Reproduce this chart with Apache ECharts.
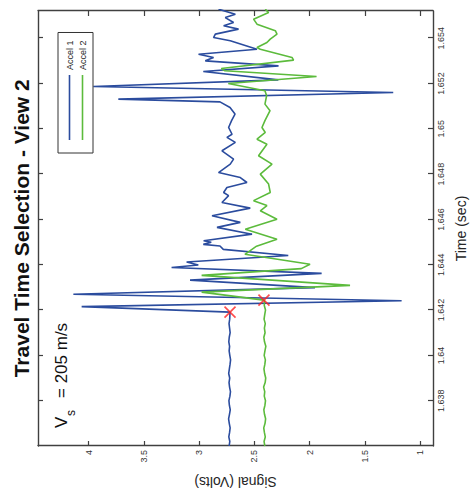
<!DOCTYPE html>
<html><head><meta charset="utf-8">
<script src="https://cdn.jsdelivr.net/npm/echarts@6/dist/echarts.min.js"></script>
<style>
html,body{margin:0;padding:0;width:474px;height:497px;overflow:hidden;background:#fff;}
#chart{position:absolute;left:0;top:0;width:497px;height:474px;transform-origin:0 0;transform:translate(0px,497px) rotate(-90deg);}
</style></head><body><div id="chart"></div>
<script>
// ---- data (time in s, signal in V) ----
const timeTicks = [1.638, 1.640, 1.642, 1.644, 1.646, 1.648, 1.650, 1.652, 1.654];
const signalTicks = [1, 1.5, 2, 2.5, 3, 3.5, 4];
const timeRange = [1.636, 1.6552];
const signalRange = [0.883, 4.458];
const seriesNames = ['Accel 1', 'Accel 2'];

const accel1Data = [
  [1.6360,2.728],[1.6362,2.722],[1.6364,2.731],[1.6366,2.724],[1.6368,2.719],[1.6370,2.727],
  [1.6372,2.733],[1.6374,2.725],[1.6376,2.718],[1.6378,2.726],[1.6380,2.730],[1.6382,2.721],
  [1.6384,2.716],[1.6386,2.724],[1.6388,2.729],[1.6390,2.723],[1.6392,2.732],[1.6394,2.726],
  [1.6396,2.720],[1.6398,2.715],[1.6400,2.722],[1.6402,2.728],[1.6404,2.724],[1.6406,2.731],
  [1.6408,2.727],[1.6410,2.719],[1.6412,2.724],[1.6414,2.729],[1.6416,2.723],[1.6418,2.721],
  [1.64191,2.720],[1.64215,4.063],[1.64241,1.167],[1.64270,4.138],[1.64299,1.951],[1.64332,3.082],
  [1.64362,1.891],[1.64388,3.249],[1.64399,3.007],[1.64412,3.113],[1.64441,2.193],[1.64468,2.781],
  [1.64483,2.811],[1.64490,2.962],[1.64499,2.890],[1.64506,2.959],[1.64535,2.521],[1.64565,2.838],
  [1.64587,2.627],[1.64616,2.883],[1.64650,2.537],[1.64675,2.793],[1.64705,2.733],[1.64719,2.778],
  [1.64741,2.748],[1.64763,2.567],[1.64785,2.627],[1.64807,2.824],[1.64844,2.718],[1.64866,2.688],
  [1.64903,2.793],[1.64940,2.672],[1.64962,2.748],[1.64976,2.702],[1.65006,2.733],[1.65036,2.706],
  [1.65065,2.675],[1.65094,2.720],[1.65119,2.811],[1.65131,3.731],[1.65160,1.243],[1.65187,3.957],
  [1.65216,2.283],[1.65253,2.962],[1.65278,2.281],[1.65300,2.944],[1.65315,2.869],[1.65329,3.005],
  [1.65351,2.476],[1.65389,2.718],[1.65403,2.869],[1.65418,2.853],[1.65440,2.643],[1.65455,2.778],
  [1.65469,2.688],[1.65491,2.763],[1.65506,2.672],[1.65528,2.824]
];

const accel2Data = [
  [1.6360,2.405],[1.6362,2.412],[1.6364,2.401],[1.6366,2.409],[1.6368,2.415],[1.6370,2.403],
  [1.6372,2.398],[1.6374,2.408],[1.6376,2.414],[1.6378,2.404],[1.6380,2.399],[1.6382,2.410],
  [1.6384,2.406],[1.6386,2.416],[1.6388,2.402],[1.6390,2.397],[1.6392,2.407],[1.6394,2.413],
  [1.6396,2.405],[1.6398,2.400],[1.6400,2.411],[1.6402,2.404],[1.6404,2.396],[1.6406,2.408],
  [1.6408,2.414],[1.6410,2.403],[1.6412,2.409],[1.6414,2.401],[1.6416,2.412],[1.6418,2.406],
  [1.6420,2.399],[1.6422,2.410],[1.6424,2.408],
  [1.64244,2.413],[1.64279,2.977],[1.64309,1.634],[1.64353,2.977],[1.64383,2.075],[1.64402,1.996],
  [1.64446,2.585],[1.64482,2.480],[1.64513,2.295],[1.64557,2.582],[1.64601,2.295],[1.64638,2.446],
  [1.64661,2.386],[1.64683,2.507],[1.64719,2.356],[1.64756,2.371],[1.64800,2.446],[1.64844,2.340],
  [1.64881,2.462],[1.64932,2.386],[1.64954,2.476],[1.64984,2.401],[1.65006,2.431],[1.65036,2.404],
  [1.65080,2.358],[1.65109,2.404],[1.65146,2.389],[1.65168,2.404],[1.65200,2.736],[1.65231,1.937],
  [1.65256,2.766],[1.65266,2.799],[1.65303,2.145],[1.65315,2.159],[1.65351,2.446],[1.65359,2.476],
  [1.65381,2.386],[1.65396,2.356],[1.65418,2.295],[1.65433,2.310],[1.65462,2.476],[1.65484,2.507],
  [1.65513,2.371],[1.65528,2.401]
];

const pickData = [[1.64191, 2.720], [1.64244, 2.413]];

// ---- styling ----
const FONT = '"Liberation Sans", Arial, Helvetica, sans-serif';
const AX = '#404040';
const BLUE = '#2b4c9e';
const GREEN = '#5cbb3c';

function fmtNum(v) { return String(+(+v).toFixed(3)); }

function axisCommon(showLabel) {
  return {
    axisLine: { show: true, onZero: false, lineStyle: { color: AX, width: 1.4 } },
    splitLine: { show: false },
    axisTick: { show: true, inside: true, length: 5, lineStyle: { color: AX, width: 1.2 } },
    axisLabel: { show: showLabel, color: '#333', fontSize: 9, fontFamily: FONT, formatter: fmtNum }
  };
}

const chart = echarts.init(document.getElementById('chart'), null, { renderer: 'svg', width: 497, height: 474 });

const xBottom = Object.assign({ type: 'value', position: 'bottom', min: timeRange[0], max: timeRange[1],
  name: 'Time (sec)', nameLocation: 'middle', nameGap: 21,
  nameTextStyle: { fontSize: 14, color: '#262626', fontFamily: FONT } }, axisCommon(true));
xBottom.axisTick.customValues = timeTicks;
xBottom.axisLabel.customValues = timeTicks;
xBottom.axisLabel.margin = 3;

const xTop = Object.assign({ type: 'value', position: 'top', min: timeRange[0], max: timeRange[1] }, axisCommon(false));
xTop.axisTick.customValues = timeTicks;

const yLeft = Object.assign({ type: 'value', position: 'left', min: signalRange[0], max: signalRange[1],
  name: 'Signal (Volts)', nameLocation: 'middle', nameGap: 29, nameRotate: 90,
  nameTextStyle: { fontSize: 14, color: '#262626', fontFamily: FONT } }, axisCommon(true));
yLeft.axisTick.customValues = signalTicks;
yLeft.axisLabel.customValues = signalTicks;
yLeft.axisLabel.margin = 4;

const yRight = Object.assign({ type: 'value', position: 'right', min: signalRange[0], max: signalRange[1] }, axisCommon(false));
yRight.axisTick.customValues = signalTicks;

chart.setOption({
  animation: false,
  backgroundColor: '#ffffff',
  textStyle: { fontFamily: FONT },
  title: {
    text: 'Travel Time Selection - View 2', left: 268.7, top: 11, textAlign: 'center', padding: 0,
    textStyle: { fontSize: 21, fontWeight: 'bold', color: '#111', fontFamily: FONT }
  },
  grid: { left: 51, right: 11, top: 38, bottom: 41 },
  xAxis: [xBottom, xTop],
  yAxis: [yLeft, yRight],
  legend: {
    data: seriesNames.map(function (n) { return { name: n, icon: 'rect' }; }),
    orient: 'vertical', left: 344, top: 58,
    padding: [7, 8, 6, 13], itemGap: 4, itemWidth: 65, itemHeight: 1.6,
    backgroundColor: '#fff', borderColor: '#333', borderWidth: 1,
    textStyle: { fontSize: 9, lineHeight: 9, color: '#262626', fontFamily: FONT }
  },
  graphic: [
    { type: 'text', x: 69, y: 61, style: { text: 'V', font: '17px ' + FONT, fill: '#111', textAlign: 'left', textVerticalAlign: 'middle' } },
    { type: 'text', x: 81, y: 71, style: { text: 's', font: '12px ' + FONT, fill: '#111', textAlign: 'left', textVerticalAlign: 'middle' } },
    { type: 'text', x: 99, y: 61, style: { text: '= 205 m/s', font: '17px ' + FONT, fill: '#111', textAlign: 'left', textVerticalAlign: 'middle' } }
  ],
  series: [
    { name: seriesNames[0], type: 'line', data: accel1Data, symbol: 'none', xAxisIndex: 0, yAxisIndex: 0,
      lineStyle: { color: BLUE, width: 1.6 }, itemStyle: { color: BLUE } },
    { name: seriesNames[1], type: 'line', data: accel2Data, symbol: 'none', xAxisIndex: 0, yAxisIndex: 0,
      lineStyle: { color: GREEN, width: 1.6 }, itemStyle: { color: GREEN } },
    { name: 'picks', type: 'scatter', data: pickData, symbol: 'path://M0,0L10,10M10,0L0,10', symbolSize: 11,
      itemStyle: { color: 'transparent', borderColor: '#ff2020', borderWidth: 1.6 }, z: 5 }
  ]
});
</script></body></html>
